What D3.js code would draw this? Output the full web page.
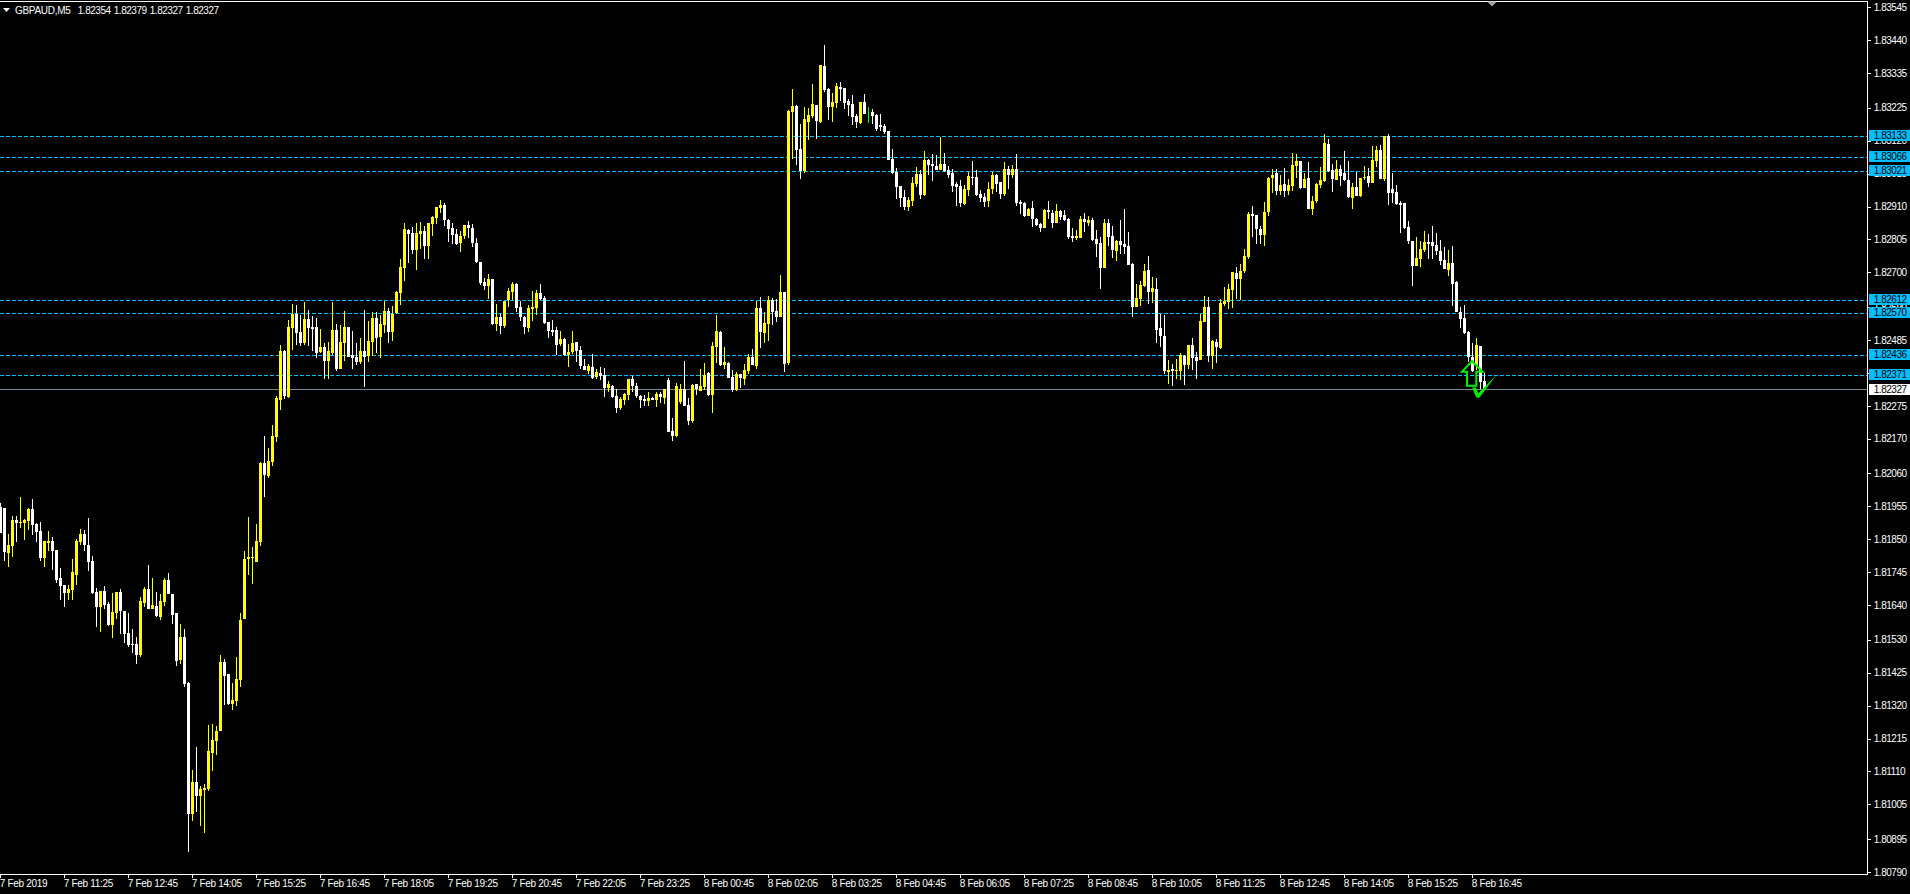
<!DOCTYPE html>
<html><head><meta charset="utf-8">
<script src="https://cdn.jsdelivr.net/npm/d3@7"></script>
<style>
html,body{margin:0;padding:0;background:#000;overflow:hidden}
svg{display:block}
text{font-family:"Liberation Sans",Arial,sans-serif;font-size:10px}
</style></head><body>
<svg id="c" width="1910" height="894"></svg>
<script>
// Prices are points above 1.80000 (1 point = 0.00001)
const opens=[
1952,1949,1806,1828,1911,1901,1901,1908,1946,1898,
1876,1790,1838,1844,1815,1726,1704,1678,1688,1736,
1841,1866,1831,1780,1682,1634,1685,1643,1576,1615,
1682,1621,1551,1516,1516,1481,1647,1691,1627,1637,
1602,1650,1720,1675,1615,1465,1538,1392,974,1076,
1032,1051,1054,1169,1207,1239,1459,1420,1325,1334,
1401,1596,1787,1790,1777,1841,2093,2051,2096,2176,
2294,2450,2303,2523,2568,2510,2475,2552,2526,2526,
2446,2462,2418,2443,2517,2392,2475,2526,2437,2431,
2415,2450,2434,2478,2555,2494,2533,2577,2510,2571,
2634,2714,2835,2826,2771,2822,2832,2784,2854,2873,
2905,2915,2867,2842,2822,2794,2816,2851,2842,2794,
2733,2670,2657,2679,2536,2558,2529,2612,2638,2663,
2590,2558,2523,2583,2587,2634,2618,2542,2517,2517,
2472,2488,2437,2446,2478,2453,2402,2386,2399,2367,
2380,2373,2332,2338,2306,2268,2294,2309,2360,2338,
2306,2297,2290,2300,2294,2313,2300,2357,2195,2179,
2287,2329,2278,2227,2344,2322,2335,2380,2309,2462,
2510,2405,2411,2367,2325,2376,2360,2386,2431,2402,
2587,2507,2536,2612,2577,2558,2637,2411,3211,3230,
3093,3023,3179,3198,3233,3179,3357,3284,3227,3240,
3291,3288,3246,3236,3198,3176,3243,3205,3211,3201,
3170,3166,3151,3061,3020,2975,2940,2908,2927,2982,
3014,2947,3058,3045,3039,3026,3045,3026,3017,2982,
2975,2918,2962,3004,3004,2950,2940,2927,2966,3010,
2988,2950,3029,3010,3029,2924,2921,2880,2905,2870,
2854,2842,2899,2890,2858,2896,2883,2870,2816,2810,
2810,2870,2858,2867,2806,2794,2714,2858,2816,2768,
2800,2791,2784,2727,2590,2615,2657,2708,2638,2647,
2523,2498,2383,2392,2386,2386,2434,2405,2469,2431,
2421,2542,2590,2434,2478,2459,2600,2606,2644,2698,
2679,2705,2749,2886,2883,2838,2819,2893,3001,3017,
2959,2982,2959,2975,3039,3055,2969,3001,2902,2928,
2979,2991,3109,3026,2995,3030,3017,2995,2937,2972,
2944,3001,3007,2985,3055,3090,2998,3135,2966,2956,
2921,2921,2845,2800,2720,2743,2772,2797,2797,2787,
2768,2740,2708,2730,2670,2574,2555,2510,2431,2405,2466,2354];
const closes=[
1871,1809,1831,1911,1901,1905,1911,1946,1895,1873,
1790,1844,1844,1812,1720,1701,1678,1691,1745,1844,
1866,1831,1777,1678,1634,1685,1640,1576,1618,1682,
1621,1548,1513,1513,1481,1653,1691,1627,1640,1605,
1653,1720,1675,1608,1462,1538,1388,974,1076,1032,
1054,1057,1175,1210,1239,1459,1414,1325,1337,1404,
1592,1787,1793,1793,1844,2093,2054,2099,2179,2299,
2450,2306,2526,2568,2507,2475,2552,2523,2520,2443,
2462,2418,2450,2517,2392,2478,2526,2431,2427,2415,
2450,2431,2482,2555,2491,2536,2577,2510,2568,2638,
2717,2838,2822,2771,2826,2832,2784,2857,2877,2908,
2915,2867,2838,2819,2791,2816,2851,2842,2794,2733,
2666,2657,2679,2536,2558,2529,2609,2641,2663,2587,
2558,2526,2587,2590,2634,2615,2539,2513,2510,2469,
2488,2437,2446,2475,2450,2402,2389,2402,2364,2383,
2370,2332,2344,2303,2268,2297,2313,2360,2338,2306,
2294,2290,2300,2294,2313,2303,2329,2192,2179,2338,
2329,2274,2227,2341,2329,2338,2373,2309,2466,2513,
2405,2415,2364,2325,2376,2364,2389,2431,2405,2587,
2510,2539,2612,2574,2558,2637,2408,3214,3230,3090,
3023,3189,3201,3236,3182,3361,3281,3227,3243,3294,
3284,3240,3233,3195,3179,3243,3205,3205,3198,3157,
3163,3147,3058,3017,2972,2937,2908,2931,2985,3014,
2947,3058,3042,3039,3026,3045,3023,3010,2975,2972,
2921,2966,3007,3001,2947,2937,2924,2966,3010,2982,
2950,3029,3010,3029,2921,2918,2880,2902,2870,2851,
2842,2899,2893,2858,2896,2877,2867,2813,2810,2816,
2870,2861,2867,2803,2791,2714,2858,2813,2772,2800,
2787,2781,2724,2590,2619,2660,2705,2638,2651,2517,
2498,2386,2389,2386,2389,2437,2405,2469,2427,2418,
2545,2590,2434,2482,2462,2603,2609,2647,2701,2679,
2705,2752,2886,2880,2838,2819,2893,3001,3010,2959,
2979,2959,2979,3042,3055,2969,2998,2902,2928,2982,
2995,3112,3023,2998,3030,3007,2995,2940,2972,2944,
3001,3004,2985,3058,3090,2998,3135,2953,2953,2918,
2915,2842,2800,2720,2746,2775,2797,2791,2784,2768,
2736,2711,2730,2663,2574,2552,2507,2431,2386,2469,2351,2327];
const highs=[
1966,1949,1866,1924,1924,1984,1914,1949,1978,1901,
1905,1844,1876,1857,1815,1758,1704,1704,1787,1850,
1882,1879,1917,1796,1694,1685,1701,1650,1678,1682,
1691,1621,1615,1564,1538,1666,1698,1768,1726,1682,
1675,1726,1742,1675,1615,1580,1564,1395,1114,1188,
1064,1070,1258,1261,1255,1481,1468,1420,1392,1474,
1615,1812,1921,1825,1898,2096,2180,2140,2215,2306,
2469,2453,2548,2600,2596,2564,2606,2580,2561,2555,
2520,2475,2478,2606,2536,2533,2577,2526,2513,2475,
2491,2580,2545,2574,2574,2564,2609,2587,2593,2641,
2743,2857,2838,2845,2857,2861,2848,2857,2880,2908,
2931,2921,2870,2857,2838,2832,2851,2864,2854,2810,
2733,2682,2695,2679,2600,2568,2609,2650,2670,2666,
2609,2561,2596,2641,2644,2663,2625,2542,2548,2526,
2513,2491,2472,2513,2478,2466,2424,2408,2440,2392,
2399,2395,2354,2341,2329,2303,2316,2360,2370,2348,
2309,2309,2319,2303,2319,2319,2329,2364,2236,2348,
2344,2418,2300,2344,2344,2392,2411,2383,2478,2564,
2513,2462,2415,2389,2383,2376,2408,2440,2456,2609,
2622,2574,2625,2618,2615,2691,2637,3217,3284,3233,
3173,3227,3224,3300,3233,3361,3425,3288,3272,3304,
3307,3288,3253,3265,3205,3243,3268,3227,3221,3205,
3205,3173,3151,3093,3033,2975,2963,2940,3004,3036,
3026,3087,3061,3077,3074,3131,3080,3039,3029,2988,
2994,2979,3020,3055,3026,2963,2953,2988,3020,3014,
2988,3052,3039,3042,3077,2931,2924,2905,2927,2873,
2858,2902,2927,2899,2918,2899,2899,2873,2842,2835,
2880,2889,2880,2873,2835,2813,2870,2870,2848,2803,
2867,2902,2829,2730,2663,2673,2727,2752,2686,2682,
2568,2565,2421,2408,2424,2443,2437,2469,2491,2447,
2568,2625,2622,2485,2488,2615,2654,2663,2701,2717,
2727,2775,2893,2912,2883,2848,2924,3004,3030,3030,
3010,3033,2998,3081,3077,3055,3017,3052,2944,2985,
3036,3141,3125,3046,3058,3042,3087,3055,2985,3020,
3001,3039,3033,3103,3103,3106,3135,3141,3017,2979,
2928,2921,2864,2800,2813,2800,2832,2823,2848,2826,
2803,2781,2771,2784,2673,2590,2596,2513,2475,2491,2466,2379];
const lows=[
1871,1780,1761,1793,1841,1885,1847,1879,1863,1841,
1780,1761,1812,1752,1710,1656,1634,1656,1656,1704,
1831,1812,1748,1675,1570,1554,1627,1573,1535,1596,
1548,1519,1506,1487,1452,1474,1634,1627,1627,1602,
1592,1637,1675,1580,1446,1452,1379,853,952,981,
936,914,1048,1111,1162,1239,1322,1322,1306,1318,
1379,1596,1736,1707,1777,1828,1984,2045,2083,2160,
2262,2297,2300,2453,2469,2466,2469,2466,2450,2427,
2443,2360,2360,2437,2386,2392,2418,2431,2392,2405,
2408,2335,2415,2434,2443,2427,2507,2475,2482,2568,
2596,2673,2730,2759,2708,2775,2743,2743,2816,2854,
2889,2848,2797,2791,2787,2765,2807,2810,2781,2730,
2660,2644,2615,2533,2513,2504,2523,2590,2612,2574,
2545,2504,2510,2545,2564,2612,2536,2491,2497,2437,
2466,2434,2399,2440,2415,2392,2389,2376,2360,2360,
2357,2303,2319,2300,2252,2262,2278,2294,2319,2300,
2268,2274,2274,2294,2271,2284,2281,2192,2163,2176,
2281,2274,2214,2220,2309,2322,2325,2306,2252,2411,
2402,2392,2364,2319,2322,2332,2341,2376,2405,2392,
2459,2475,2481,2532,2542,2558,2382,2405,3061,3042,
2997,3017,3122,3192,3125,3176,3275,3186,3179,3224,
3246,3221,3198,3170,3160,3173,3205,3176,3173,3151,
3151,3141,3058,3014,2934,2908,2899,2896,2912,2972,
2934,2943,3010,2991,3026,3026,3020,3001,2956,2912,
2908,2915,2943,2979,2943,2924,2908,2908,2950,2956,
2934,2943,2966,3001,2912,2886,2877,2880,2845,2848,
2829,2842,2870,2842,2858,2867,2864,2807,2797,2803,
2810,2829,2848,2800,2749,2647,2714,2784,2746,2737,
2759,2759,2724,2558,2590,2593,2654,2599,2603,2475,
2462,2377,2345,2338,2361,2357,2341,2392,2389,2361,
2421,2542,2415,2392,2411,2456,2593,2583,2587,2615,
2612,2698,2743,2813,2791,2791,2784,2880,2953,2947,
2947,2940,2947,2959,3001,2966,2969,2902,2883,2921,
2969,2988,3020,2956,2995,2975,2991,2937,2902,2944,
2940,2995,2972,2985,3036,2998,2991,2915,2921,2915,
2826,2838,2791,2657,2720,2717,2765,2743,2743,2756,
2724,2711,2689,2593,2574,2523,2504,2415,2383,2389,2329,2327];
const priceTicks=[1.83545,1.83440,1.83335,1.83225,1.83120,1.83015,1.82910,1.82805,1.82700,1.82590,1.82485,1.82380,1.82275,1.82170,1.82060,1.81955,1.81850,1.81745,1.81640,1.81530,1.81425,1.81320,1.81215,1.81110,1.81005,1.80895,1.80790];
const timeLabels=["7 Feb 2019","7 Feb 11:25","7 Feb 12:45","7 Feb 14:05","7 Feb 15:25","7 Feb 16:45","7 Feb 18:05","7 Feb 19:25","7 Feb 20:45","7 Feb 22:05","7 Feb 23:25","8 Feb 00:45","8 Feb 02:05","8 Feb 03:25","8 Feb 04:45","8 Feb 06:05","8 Feb 07:25","8 Feb 08:45","8 Feb 10:05","8 Feb 11:25","8 Feb 12:45","8 Feb 14:05","8 Feb 15:25","8 Feb 16:45"];
const barsPerLabel=16;
const levels=[1.83133,1.83066,1.83021,1.82612,1.82570,1.82436,1.82371];
const bid=1.82327;
const headerName="GBPAUD,M5";
const headerValues=["1.82354","1.82379","1.82327","1.82327"];
const upArrowBar=368, upArrowPrice=1.82417;

const P=v=>1.8+v*1e-5;
const svg=d3.select("#c");
const frameRight=1867.5, frameBottom=874.5;
const x=d3.scaleLinear().domain([0,480]).range([0,1920]);
const y=d3.scaleLinear().domain([1.80790,1.83545]).range([871.9,7.2]);
const ry=v=>Math.round(y(v));
const fy=v=>Math.floor(y(v));
const candles=opens.map((o,i)=>({i,o:P(o),h:P(highs[i]),l:P(lows[i]),c:P(closes[i])}));
const col=d=>d.c>d.o?"#ffff00":d.c<d.o?"#ffffff":"#00ff00";

const root=svg.append("g").attr("shape-rendering","crispEdges");
root.append("rect").attr("width",1910).attr("height",894).attr("fill","#000");

// level lines
root.append("g").selectAll("line").data(levels).join("line")
 .attr("x1",0).attr("x2",frameRight).attr("y1",d=>fy(d)+.5).attr("y2",d=>fy(d)+.5)
 .attr("stroke","#00bfff").attr("stroke-dasharray","4,2");
root.append("line").attr("x1",0).attr("x2",frameRight).attr("y1",fy(bid)+.5).attr("y2",fy(bid)+.5).attr("stroke","#778899");

// candles
const cg=root.append("g");
cg.selectAll("rect.w").data(candles).join("rect").attr("class","w")
 .attr("x",d=>x(d.i)).attr("width",1)
 .attr("y",d=>ry(d.h)).attr("height",d=>Math.max(1,ry(d.l)-ry(d.h)))
 .attr("fill",col);
cg.selectAll("rect.b").data(candles.filter(d=>d.o!==d.c)).join("rect").attr("class","b")
 .attr("x",d=>x(d.i)-1).attr("width",3)
 .attr("y",d=>ry(Math.max(d.o,d.c)))
 .attr("height",d=>Math.max(1,ry(Math.min(d.o,d.c))-ry(Math.max(d.o,d.c))))
 .attr("fill",col);

// arrows, anchored to a bar and a price
const ax=x(upArrowBar), ay=y(upArrowPrice), by=y(bid);
svg.append("path").attr("fill","none").attr("stroke","#00f000").attr("stroke-width",2)
 .attr("stroke-linejoin","miter")
 .attr("transform",`translate(${ax},${ay})`)
 .attr("d","M0,0L-10,10.4H-5V24.4H4.3V10.4H10.6Z");
svg.append("path").attr("fill","#00f000")
 .attr("transform",`translate(${ax},${by})`)
 .attr("d","M0,-2L4,-2L6.3,3.7L24.7,-14.7L7.3,8.3L4.5,8.3Z");

// axes
const yAxis=d3.axisRight(y).tickValues(priceTicks).tickFormat(d3.format(".5f")).tickSize(3).tickPadding(3);
const yg=svg.append("g").attr("transform",`translate(${frameRight},0)`).call(yAxis);
const xIdx=timeLabels.map((_,k)=>k*barsPerLabel);
const xAxis=d3.axisBottom(x).tickValues(xIdx).tickFormat((d,k)=>timeLabels[k]).tickSize(3).tickPadding(2);
const xg=svg.append("g").attr("transform",`translate(0,${frameBottom})`).call(xAxis);
for(const g of [yg,xg]){
 g.selectAll(".domain").remove();
 g.selectAll("line").attr("stroke","#fff").attr("shape-rendering","crispEdges");
 g.selectAll("text").attr("fill","#fff").style("font-family",'"Liberation Sans",Arial,sans-serif').style("font-size","10px");
}
yg.selectAll("text").attr("letter-spacing","-0.45").attr("x",6.2);
xg.selectAll("text").attr("text-anchor","start").attr("letter-spacing","-0.3").attr("y",5).attr("dx",-0.8);

// frame
root.append("path").attr("fill","none").attr("stroke","#fff")
 .attr("d",`M0,1.5H${frameRight}V${frameBottom}H0`);
svg.append("path").attr("fill","#a0a0a0").attr("d","M1487,1.5H1497L1492,6.5Z");

// price tags
const tags=svg.append("g");
const tag=(v,bg,fg,lift)=>{
 const yy=fy(v);
 tags.append("rect").attr("x",1869).attr("y",yy-lift).attr("width",41).attr("height",11).attr("fill",bg).attr("shape-rendering","crispEdges");
 tags.append("text").attr("x",1873.7).attr("y",yy-lift+5.5).attr("dy","0.36em").attr("fill",fg).attr("letter-spacing","-0.45").text(d3.format(".5f")(v));
};
levels.forEach(v=>tag(v,"#00bfff","#000000",6));
tag(bid,"#ffffff","#000000",5);

// header
svg.append("path").attr("fill","#fff").attr("d","M3,8H10L6.5,12Z");
svg.append("text").attr("x",15).attr("y",10).attr("dy","0.36em").attr("fill","#fff").attr("letter-spacing","-0.3").text(headerName);
svg.selectAll("text.hv").data(headerValues).join("text").attr("class","hv")
 .attr("x",(d,k)=>77.7+36*k).attr("y",10).attr("dy","0.36em").attr("fill","#fff").attr("letter-spacing","-0.45").text(d=>d);
</script></body></html>
